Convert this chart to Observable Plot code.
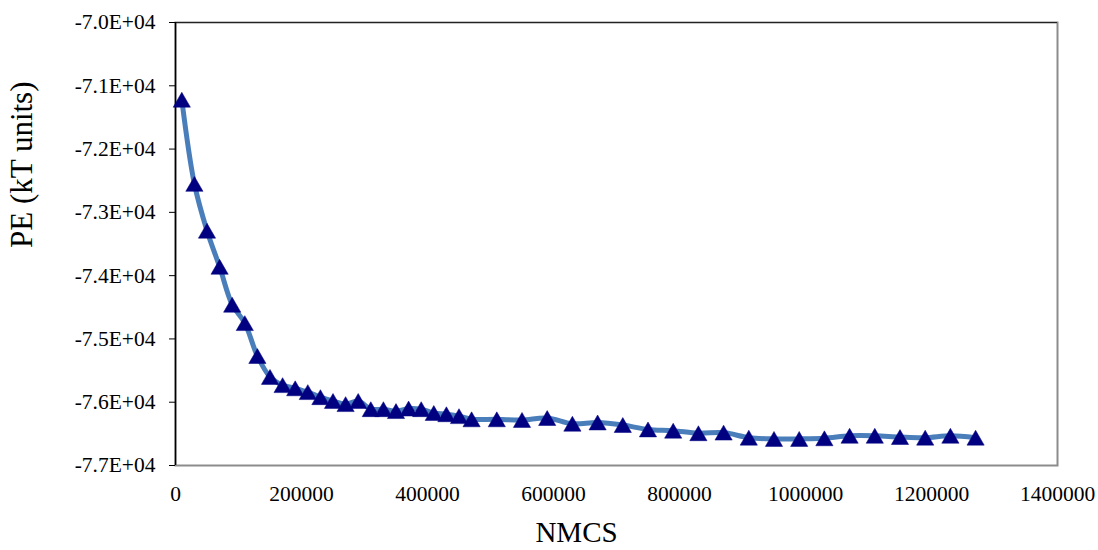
<!DOCTYPE html>
<html>
<head>
<meta charset="utf-8">
<script src="https://cdn.jsdelivr.net/npm/d3@7"></script>
<script src="https://cdn.jsdelivr.net/npm/@observablehq/plot@0.6"></script>
<style>
  html, body { margin: 0; padding: 0; background: #fff; }
</style>
</head>
<body>
<div id="chart"></div>
<script>
// Monte Carlo steps (NMCS) and potential energy (kT units)
const nmcs = [
  10000, 30000, 50000, 70000, 90000, 110000, 130000, 150000, 170000, 190000,
  210000, 230000, 250000, 270000, 290000, 310000, 330000, 350000, 370000, 390000,
  410000, 430000, 450000, 470000, 510000, 550000, 590000, 630000, 670000, 710000,
  750000, 790000, 830000, 870000, 910000, 950000, 990000, 1030000, 1070000, 1110000,
  1150000, 1190000, 1230000, 1270000
];
const pe = [
  -71220, -72550, -73290, -73860, -74460, -74750, -75270, -75600, -75730, -75780,
  -75840, -75920, -75980, -76030, -75980, -76110, -76110, -76140, -76100, -76110,
  -76170, -76190, -76220, -76270, -76270, -76280, -76250, -76340, -76320, -76360,
  -76430, -76450, -76490, -76480, -76560, -76580, -76580, -76570, -76530, -76530,
  -76550, -76560, -76530, -76560
];
const xTicks = [0, 200000, 400000, 600000, 800000, 1000000, 1200000, 1400000];
const yTicks = [-77000, -76000, -75000, -74000, -73000, -72000, -71000, -70000];
const xTitle = "NMCS";
const yTitle = "PE (kT units)";

const rows = nmcs.map((n, i) => ({n, e: pe[i]}));

const chart = Plot.plot({
  width: 1098,
  height: 550,
  marginLeft: 175,
  marginRight: 41,
  marginTop: 22,
  marginBottom: 85,
  style: {fontFamily: "'Liberation Serif', 'Times New Roman', serif", fontSize: "21.5px", color: "black", background: "white"},
  x: {domain: [0, 1400000]},
  y: {domain: [-77000, -70000]},
  marks: [
    Plot.frame({stroke: "#8c8c8c", strokeWidth: 2}),
    Plot.ruleY([-70000], {stroke: "#222", strokeWidth: 1.2}),
    Plot.ruleX([0], {stroke: "#000", strokeWidth: 1.5}),
    Plot.axisY({ticks: yTicks, tickSize: 6, tickPadding: 14, label: null,
      tickFormat: d => (d / 10000).toFixed(1) + "E+04"}),
    Plot.axisX({ticks: xTicks, tickSize: 0, tickPadding: 20, label: null,
      tickFormat: d => String(d)}),
    Plot.line(rows, {x: "n", y: "e", curve: "catmull-rom", stroke: "#4a7ebb", strokeWidth: 5}),
    Plot.dot(rows, {x: "n", y: "e", symbol: "triangle", r: 6.4, fill: "#000080", stroke: "#000080", strokeWidth: 0.5, dy: 2.5}),
    Plot.text([xTitle], {text: d => d, frameAnchor: "bottom", dx: -40, dy: 67, fontSize: 29, lineAnchor: "middle"}),
    Plot.text([yTitle], {text: d => d, frameAnchor: "left", rotate: -90, dx: -153, dy: 4, fontSize: 31, lineAnchor: "middle"})
  ]
});
document.getElementById("chart").appendChild(chart);
</script>
</body>
</html>
